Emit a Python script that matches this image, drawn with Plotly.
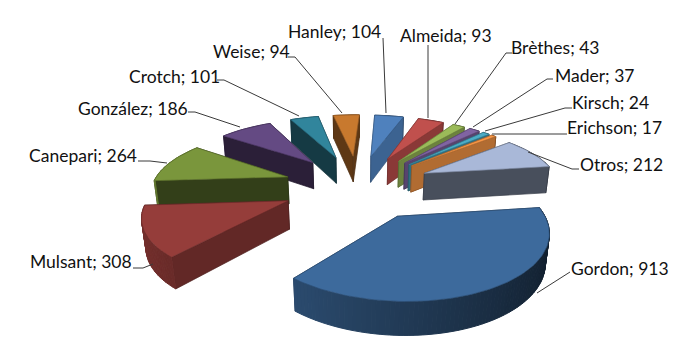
import math
import plotly.graph_objects as go

# ---- data ----
names = ["Hanley", "Almeida", "Brèthes", "Mader", "Kirsch", "Erichson", "Otros",
         "Gordon", "Mulsant", "Canepari", "González", "Crotch", "Weise"]
values = [104, 93, 43, 37, 24, 17, 212, 913, 308, 264, 186, 101, 94]

# ---- styles ----
top_colors = ["#4f81bd", "#c0504d", "#9bbb59", "#8064a2", "#4bacc6", "#f79646", "#a9b8d8",
              "#3d6a9c", "#953d3a", "#7a963c", "#644a83", "#31859c", "#c8792e"]
wall_factor = [0.77, 0.72, 0.70, 0.68, 0.65, 0.72, 0.43, 0.6, 0.66, 0.42, 0.43, 0.44, 0.47]

# ---- label layout (pixel positions in the figure) ----
label_pos = [(286, 31), (398, 35), (509, 47), (553, 75), (570, 102), (565, 127), (578, 164),
             (569, 268), (28, 261), (27, 155), (76, 108), (127, 76), (211, 51)]
leaders = [
    [(383, 38), (386, 113)],
    [(428, 45), (428, 118)],
    [(512, 53), (506, 53), (455, 124)],
    [(553, 79), (547, 79), (473, 127)],
    [(572, 108), (565, 108), (485, 131)],
    [(567, 134), (492, 134)],
    [(579, 169), (572, 169), (528, 152)],
    [(570, 272), (537, 293)],
    [(133, 268), (143, 268), (153, 264)],
    [(138, 161), (150, 161), (167, 163)],
    [(188, 112), (195, 112), (240, 127)],
    [(217, 80), (224, 80), (299, 116)],
    [(288, 57), (295, 57), (342, 113)],
]

# ---- 3D pie projection ----
CX, CY = 358, 185.5
R, EXPLODE, T = 135, 75, 31
ROTATION = math.radians(3)
SIN_TILT = 0.428
COS_TILT = math.sqrt(1 - SIN_TILT ** 2)
PERSP = 700


def project(x, z, h=0.0):
    d = 1 + (z * COS_TILT - h * SIN_TILT) / PERSP
    return CX + x / d, CY - (z * SIN_TILT + h * COS_TILT) / d


def shade(color, f):
    r, g, b = [int(color[i:i + 2], 16) for i in (1, 3, 5)]
    return "#%02x%02x%02x" % tuple(max(0, min(255, int(c * f))) for c in (r, g, b))


def poly(pts, fill, line=None, width=0.7):
    return go.Scatter(x=[p[0] for p in pts] + [pts[0][0]],
                      y=[p[1] for p in pts] + [pts[0][1]],
                      mode="lines", fill="toself", fillcolor=fill,
                      line=dict(color=line or fill, width=width),
                      hoverinfo="skip", showlegend=False)


total = sum(values)
slices = []
acc = 0.0
for i, v in enumerate(values):
    a0 = acc / total * 2 * math.pi + ROTATION
    acc += v
    a1 = acc / total * 2 * math.pi + ROTATION
    slices.append((i, a0, a1))

fig = go.Figure()
# far slices first
for i, a0, a1 in sorted(slices, key=lambda s: -math.cos((s[1] + s[2]) / 2)):
    mid = (a0 + a1) / 2
    ax, az = EXPLODE * math.sin(mid), EXPLODE * math.cos(mid)
    n = max(3, int((a1 - a0) / math.radians(1.5)))
    angs = [a0 + (a1 - a0) * k / n for k in range(n + 1)]
    rim = [(ax + R * math.sin(t), az + R * math.cos(t)) for t in angs]
    col = top_colors[i]
    wall = shade(col, wall_factor[i])
    faces = []
    # radial walls
    for px, pz in (rim[0], rim[-1]):
        q = [project(ax, az), project(px, pz), project(px, pz, -T), project(ax, az, -T)]
        faces.append(((az + pz) / 2, q, wall, shade(col, wall_factor[i] * 0.8), 0.7))
    # outer wall strips
    for k in range(n):
        t = (angs[k] + angs[k + 1]) / 2
        f = 0.55 + 0.25 * (-math.sin(t))
        (p1x, p1z), (p2x, p2z) = rim[k], rim[k + 1]
        q = [project(p1x, p1z), project(p2x, p2z), project(p2x, p2z, -T), project(p1x, p1z, -T)]
        faces.append(((p1z + p2z) / 2, q, shade(col, f), None, 1.0))
    for _, q, fill, line, w in sorted(faces, key=lambda fc: -fc[0]):
        fig.add_trace(poly(q, fill, line, w))
    top = [project(ax, az)] + [project(px, pz) for px, pz in rim]
    fig.add_trace(poly(top, col, shade(col, 0.75), 0.7))

shapes = []
for pts in leaders:
    path = "M " + " L ".join(f"{x} {y}" for x, y in pts)
    shapes.append(dict(type="path", path=path, xref="x", yref="y",
                       line=dict(color="#3a3a3a", width=1)))

annotations = [dict(x=p[0], y=p[1], xref="x", yref="y", xanchor="left", yanchor="middle",
                    text=f"{n}; {v}", showarrow=False,
                    font=dict(family="Lato, Carlito, sans-serif", size=17.5, color="#111111"))
               for n, v, p in zip(names, values, label_pos)]

fig.update_layout(
    width=685, height=359, margin=dict(l=0, r=0, t=0, b=0),
    paper_bgcolor="white", plot_bgcolor="white", showlegend=False,
    xaxis=dict(range=[0, 685], visible=False, fixedrange=True),
    yaxis=dict(range=[359, 0], visible=False, fixedrange=True),
    shapes=shapes, annotations=annotations,
)
fig.write_html("out.html", config={"displayModeBar": False},
               post_script="document.body.style.margin='0';document.documentElement.style.overflow='hidden';")
